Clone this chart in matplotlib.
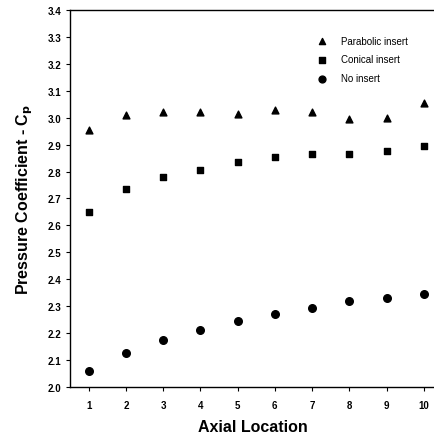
import matplotlib
matplotlib.use("Agg")
import matplotlib.pyplot as plt

x = [1, 2, 3, 4, 5, 6, 7, 8, 9, 10]
parabolic = [2.955, 3.01, 3.02, 3.02, 3.015, 3.03, 3.02, 2.995, 3.0, 3.055]
conical = [2.65, 2.735, 2.78, 2.805, 2.835, 2.855, 2.865, 2.865, 2.875, 2.895]
no_insert = [2.06, 2.125, 2.175, 2.21, 2.245, 2.27, 2.295, 2.32, 2.33, 2.345]
yticks = [2.0, 2.1, 2.2, 2.3, 2.4, 2.5, 2.6, 2.7, 2.8, 2.9, 3.0, 3.1, 3.2, 3.3, 3.4]

plt.rcParams['font.family'] = ['Liberation Sans', 'DejaVu Sans']
fig = plt.figure(figsize=(4.35, 4.35), dpi=100)
ax = fig.add_axes([0.161, 0.108, 0.839, 0.867])

ax.scatter(x, parabolic, marker='^', s=24, color='black', label='Parabolic insert')
ax.scatter(x, conical, marker='s', s=22, color='black', label='Conical insert')
ax.scatter(x, no_insert, marker='o', s=30, color='black', label='No insert')

ax.set_xlim(0.5, 10.3)
ax.set_ylim(2.0, 3.4)
ax.set_xticks(x)
ax.set_yticks(yticks)
ax.set_yticklabels([f"{v:.1f}" for v in yticks])
ax.tick_params(axis='both', labelsize=7, length=3, width=0.8, direction='out')
ax.tick_params(axis='x', pad=6)
for lbl in ax.get_xticklabels() + ax.get_yticklabels():
    lbl.set_fontweight('bold')
ax.spines['right'].set_visible(False)
for s in ['left', 'bottom', 'top']:
    ax.spines[s].set_linewidth(1.0)

ax.set_xlabel('Axial Location', fontsize=11.5, fontweight='bold', labelpad=7)
ax.set_ylabel('Pressure Coefficient - C$_\\mathbf{p}$', fontsize=11.5, fontweight='bold', labelpad=9)

ax.legend(loc='upper right', bbox_to_anchor=(0.95, 0.955), frameon=False, fontsize=7,
          handletextpad=1.0, labelspacing=0.9, markerscale=0.9)

fig.savefig('out.png', dpi=100)
